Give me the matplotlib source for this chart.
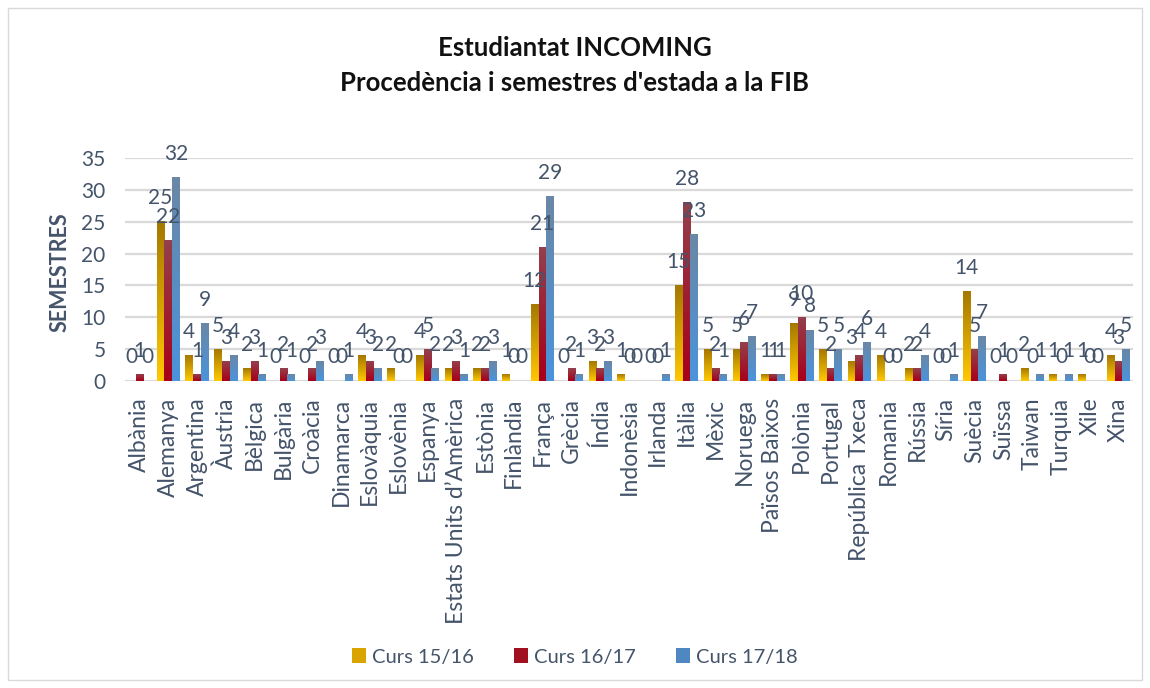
import numpy as np
import matplotlib
matplotlib.use("Agg")
import matplotlib.pyplot as plt
from matplotlib.colors import LinearSegmentedColormap
from matplotlib.patches import Patch, Rectangle

plt.rcParams['font.family'] = ['Lato', 'DejaVu Sans']

countries = ["Albània", "Alemanya", "Argentina", "Àustria", "Bèlgica", "Bulgària",
             "Croàcia", "Dinamarca", "Eslovàquia", "Eslovènia", "Espanya",
             "Estats Units d’Amèrica", "Estònia", "Finlàndia", "França", "Grècia",
             "Índia", "Indonèsia", "Irlanda", "Itàlia", "Mèxic", "Noruega",
             "Països Baixos", "Polònia", "Portugal", "República Txeca", "Romania",
             "Rússia", "Síria", "Suècia", "Suïssa", "Taiwan", "Turquia", "Xile", "Xina"]
curs_15_16 = [0, 25, 4, 5, 2, 0, 0, 0, 4, 2, 4, 2, 2, 1, 12, 0, 3, 1, 0, 15,
              5, 5, 1, 9, 5, 3, 4, 2, 0, 14, 0, 2, 1, 1, 4]
curs_16_17 = [1, 22, 1, 3, 3, 2, 2, 0, 3, 0, 5, 3, 2, 0, 21, 2, 2, 0, 0, 28,
              2, 6, 1, 10, 2, 4, 0, 2, 0, 5, 1, 0, 0, 0, 3]
curs_17_18 = [0, 32, 9, 4, 1, 1, 3, 1, 2, 0, 2, 1, 3, 0, 29, 1, 3, 0, 1, 23,
              1, 7, 1, 8, 5, 6, 0, 4, 1, 7, 0, 1, 1, 0, 5]
series_names = ["Curs 15/16", "Curs 16/17", "Curs 17/18"]

# top -> bottom gradient colours, roughly like the Excel fill
grads = [("#a57800", "#ffc800"), ("#94404c", "#a8001a"), ("#6a87a6", "#4a94dc")]
mids = ["#d9a300", "#a0101f", "#4f88c0"]
label_col = "#44546a"

fig = plt.figure(figsize=(11.5, 6.88), dpi=100)
ax = fig.add_axes([0.1087, 0.4462, 0.8765, 0.3241])

x = np.arange(len(countries))
w = 0.27
grad_img = np.linspace(1, 0, 64).reshape(-1, 1)

for i, vals in enumerate([curs_15_16, curs_16_17, curs_17_18]):
    pos = x + (i - 1) * w
    bars = ax.bar(pos, vals, w, color="none", zorder=2)
    cmap = LinearSegmentedColormap.from_list("g%d" % i, [grads[i][1], grads[i][0]])
    for b, v in zip(bars, vals):
        if v > 0:
            ax.imshow(grad_img, extent=[b.get_x(), b.get_x() + b.get_width(), 0, v],
                      aspect="auto", cmap=cmap, vmin=0, vmax=1, zorder=2,
                      interpolation="bilinear")
        ax.annotate(str(v), (b.get_x() + b.get_width() / 2, v), xytext=(0, 17),
                    textcoords="offset points", ha="center", va="center",
                    fontsize=15, color=label_col, annotation_clip=False)

ax.set_xlim(-0.5, len(countries) - 0.5)
ax.set_ylim(0, 35)
ax.set_yticks(range(0, 36, 5))
ax.yaxis.grid(True, color="#d9d9d9", linewidth=1.6, zorder=0)
ax.set_axisbelow(True)
for s in ax.spines.values():
    s.set_visible(False)
ax.tick_params(axis="both", length=0, colors=label_col)
ax.tick_params(axis="y", labelsize=15, pad=14)
ax.tick_params(axis="x", pad=12)
ax.set_xticks(x)
ax.set_xticklabels(countries, rotation=90, fontsize=16.5)
ax.set_ylabel("SEMESTRES", fontsize=15.5, fontweight="bold", color=label_col)
ax.yaxis.set_label_coords(-0.054, 0.49)

fig.text(0.5, 0.93, "Estudiantat INCOMING", ha="center", va="center",
         fontsize=18.5, fontweight="bold", color="#111111")
fig.text(0.5, 0.879, "Procedència i semestres d'estada a la FIB", ha="center",
         va="center", fontsize=18.5, fontweight="bold", color="#111111")

handles = [Patch(facecolor=c) for c in mids]
fig.legend(handles, series_names, loc="center", bbox_to_anchor=(0.5, 0.045), ncol=3,
           frameon=False, fontsize=14.5, handlelength=0.7, handleheight=0.7,
           columnspacing=2.0, handletextpad=0.3, labelcolor=label_col)

fig.patches.append(Rectangle((0.007, 0.012), 0.986, 0.976, transform=fig.transFigure,
                             fill=False, edgecolor="#d9d9d9", linewidth=1))

fig.savefig("out.png", dpi=100)
